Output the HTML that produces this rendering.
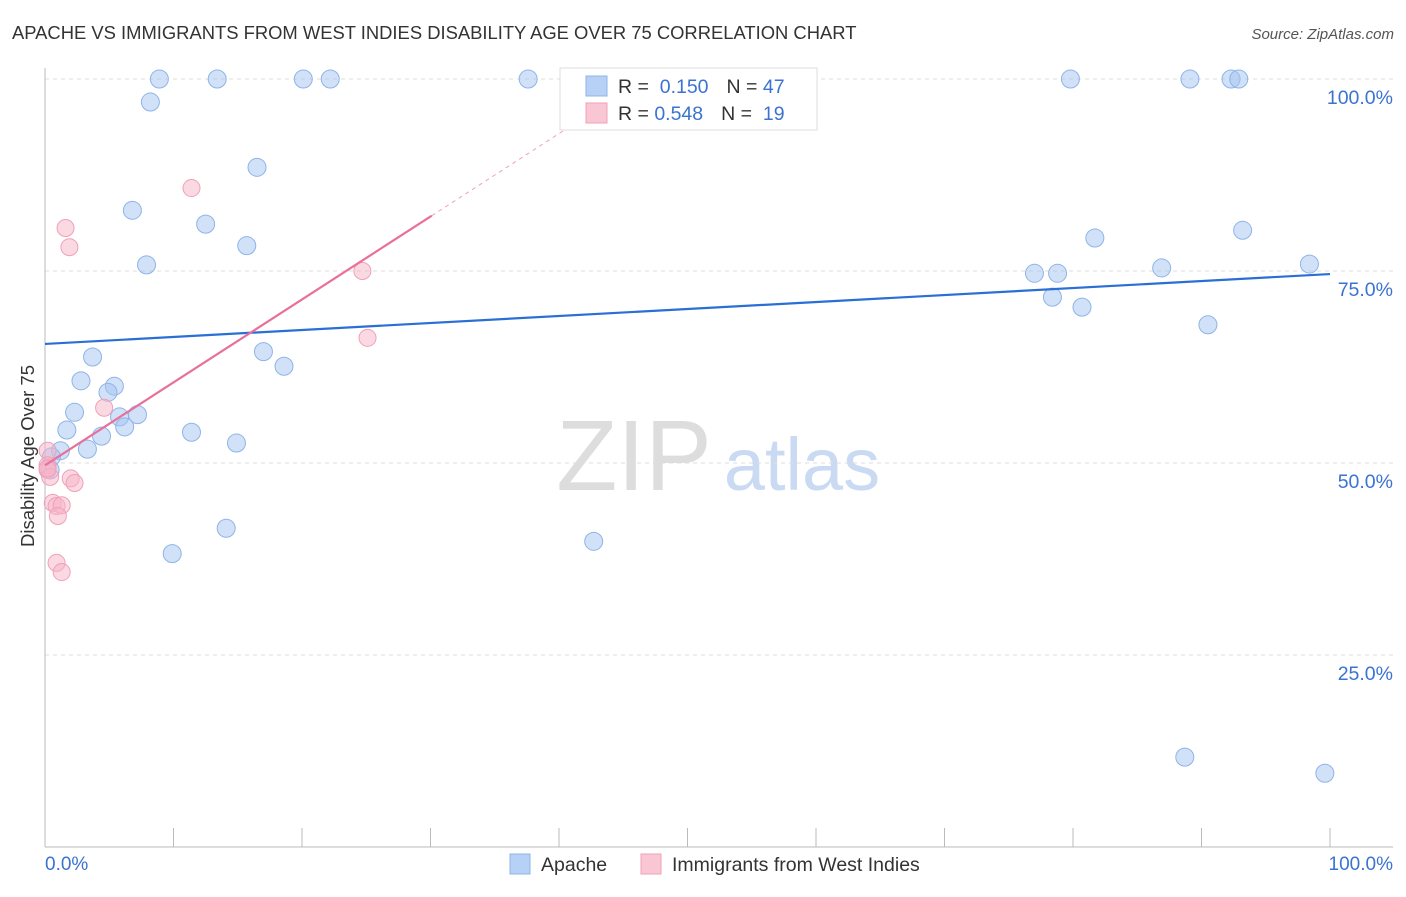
<!DOCTYPE html>
<html><head><meta charset="utf-8"><style>
body{margin:0;background:#fff;font-family:"Liberation Sans",sans-serif;}
svg text{font-family:"Liberation Sans",sans-serif;}
</style></head><body>
<svg id="c" width="1406" height="892" xmlns="http://www.w3.org/2000/svg">
<text x="12" y="39" font-size="18.4" fill="#333">APACHE VS IMMIGRANTS FROM WEST INDIES DISABILITY AGE OVER 75 CORRELATION CHART</text>
<text x="1394" y="39" font-size="15" fill="#555" text-anchor="end" font-style="italic">Source: ZipAtlas.com</text>
<text x="634" y="490" font-size="100" fill="#ddd" font-family="Liberation Serif" text-anchor="middle">ZIP</text>
<text x="802" y="490" font-size="74" fill="#c9daf2" text-anchor="middle">atlas</text>
<text transform="translate(34,456) rotate(-90)" font-size="18.5" fill="#333" text-anchor="middle">Disability Age Over 75</text>
<g id="grid"></g><g id="pts"></g><g id="lines"></g>
<g>
<rect x="560" y="68" width="257" height="62" fill="#fff" stroke="#ddd"/>
<rect x="586" y="76" width="21" height="20" fill="#b7d0f5" stroke="#8fb4e8"/>
<rect x="586" y="103" width="21" height="20" fill="#f9c6d4" stroke="#f0a0b8"/>
<text x="618" y="93" font-size="19.5" fill="#333">R = <tspan fill="#3a73d0">&#160;0.150</tspan><tspan dx="18">N = </tspan><tspan fill="#3a73d0">47</tspan></text>
<text x="618" y="120" font-size="19.5" fill="#333">R = <tspan fill="#3a73d0">0.548</tspan><tspan dx="18">N = </tspan><tspan fill="#3a73d0">&#160;19</tspan></text>
</g>
<g>
<rect x="510" y="854" width="20" height="20" fill="#b7d0f5" stroke="#8fb4e8"/>
<text x="541" y="871" font-size="19.5" fill="#333">Apache</text>
<rect x="641" y="854" width="20" height="20" fill="#f9c6d4" stroke="#f0a0b8"/>
<text x="672" y="871" font-size="19.5" fill="#333">Immigrants from West Indies</text>
</g>
<text x="45" y="870" font-size="19" fill="#3a73d0">0.0%</text>
<text x="1393" y="870" font-size="19" fill="#3a73d0" text-anchor="end">100.0%</text>
</svg>
<script>
const yTicks=[100,75,50,25];
const yTickLabels=["100.0%","75.0%","50.0%","25.0%"];
const blueX=[8.9,13.4,20.1,22.2,37.6,79.8,89.1,92.3,92.9,8.2,16.5,6.8,12.5,15.7,7.9,81.7,93.2,77.0,78.8,86.9,98.4,78.4,80.7,90.5,3.7,17.0,18.6,2.8,5.4,4.9,2.3,5.8,7.2,6.2,1.7,4.4,11.4,14.9,1.2,3.3,0.5,0.4,9.9,14.1,42.7,88.7,99.6];
const blueY=[100,100,100,100,100,100,100,100,100,97.0,88.5,82.9,81.1,78.3,75.8,79.3,80.3,74.7,74.7,75.4,75.9,71.6,70.3,68.0,63.8,64.5,62.6,60.7,60.0,59.2,56.6,56.0,56.3,54.7,54.3,53.5,54.0,52.6,51.6,51.8,50.8,49.1,38.2,41.5,39.8,11.7,9.6];
const pinkX=[11.4,1.6,1.9,24.7,25.1,4.6,0.2,0.2,0.2,0.4,2.0,2.3,0.6,0.9,1.3,1.0,0.9,1.3,0.2];
const pinkY=[85.8,80.6,78.1,75.0,66.3,57.2,51.6,49.7,49.1,48.2,48.0,47.4,44.8,44.4,44.5,43.1,37.0,35.8,49.3];
const blueTrend=[65.5,74.6];
const pinkTrend=[49.7,82.2]; const pinkSolidEnd=30.1; const pinkDashEnd=41;
const X=v=>45+v*12.85, Y=v=>847-v*7.68;
const NS="http://www.w3.org/2000/svg";
function mk(t,a,p){const e=document.createElementNS(NS,t);for(const k in a)e.setAttribute(k,a[k]);p.appendChild(e);return e;}
const g=document.getElementById('grid'),pts=document.getElementById('pts'),ln=document.getElementById('lines'),svg=document.getElementById('c');
yTicks.forEach((t,i)=>{
 const l=mk('line',{x1:45,x2:1393,y1:Y(t),y2:Y(t),stroke:'#ddd','stroke-dasharray':'4,4'},g);
 
 
 const tx=mk('text',{x:1393,y:Y(t)+25,'font-size':19.5,fill:'#3a73d0','text-anchor':'end'},svg);
 tx.textContent=yTickLabels[i];
 
 
});
const ax=mk('line',{x1:45,x2:45,y1:68,y2:847,stroke:'#bbb'},g);


const bx=mk('line',{x1:45,x2:1393,y1:847,y2:847,stroke:'#bbb'},g);


for(let i=0;i<=10;i++){const t=mk('line',{x1:X(i*10),x2:X(i*10),y1:828,y2:847,stroke:'#bbb'},g);
 
 }
blueX.forEach((x,i)=>{const c=mk('circle',{cx:X(x),cy:Y(blueY[i]),r:9,fill:'rgba(164,196,240,0.5)',stroke:'#8fb4e8','stroke-width':1},pts);
 
 });
pinkX.forEach((x,i)=>{const c=mk('circle',{cx:X(x),cy:Y(pinkY[i]),r:8.5,fill:'rgba(248,180,200,0.5)',stroke:'#f0a0b8','stroke-width':1},pts);
 
 });
const bl=mk('line',{x1:X(0),y1:Y(blueTrend[0]),x2:X(100),y2:Y(blueTrend[1]),stroke:'#2a6fd6','stroke-width':2.2},ln);


const pv=x=>pinkTrend[0]+(pinkTrend[1]-pinkTrend[0])*x/pinkSolidEnd;
const pl=mk('line',{x1:X(0),y1:Y(pv(0)),x2:X(pinkSolidEnd),y2:Y(pv(pinkSolidEnd)),stroke:'#e8709a','stroke-width':2.2},ln);


const pd=mk('line',{x1:X(pinkSolidEnd),y1:Y(pv(pinkSolidEnd)),x2:X(pinkDashEnd),y2:Y(pv(pinkDashEnd)),stroke:'#f0a0b8','stroke-width':1,'stroke-dasharray':'4,4'},ln);


</script>
</body></html>
